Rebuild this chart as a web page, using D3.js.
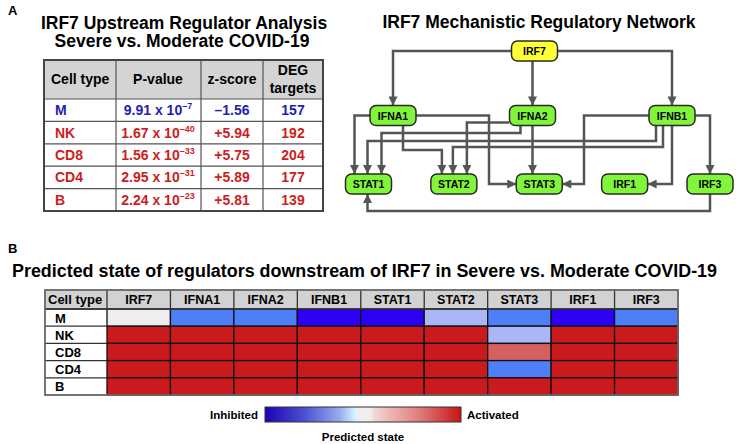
<!DOCTYPE html>
<html><head><meta charset="utf-8">
<script src="https://cdn.jsdelivr.net/npm/d3@7"></script>
<style>body{margin:0;background:#fff}svg{display:block;font-family:"Liberation Sans",Arial,Helvetica,sans-serif;font-weight:bold}</style>
</head><body>
<script>
// ---------- DATA ----------
const tableCells = ["M","NK","CD8","CD4","B"];
const pMantissa = ["9.91","1.67","1.56","2.95","2.24"];
const pExponent = ["–7","–40","–33","–31","–23"];
const zScores = [-1.56, 5.94, 5.75, 5.89, 5.81];
const degTargets = [157, 192, 204, 177, 139];

const topNode = "IRF7";
const midNodes = ["IFNA1","IFNA2","IFNB1"];
const lowNodes = ["STAT1","STAT2","STAT3","IRF1","IRF3"];
const edges = [
  ["IRF7","IFNA1"],["IRF7","IFNA2"],["IRF7","IFNB1"],
  ["IFNA1","STAT1"],["IFNA1","STAT2"],["IFNA1","STAT3"],
  ["IFNA2","STAT1"],["IFNA2","STAT2"],["IFNA2","STAT3"],
  ["IFNB1","STAT1"],["IFNB1","STAT2"],["IFNB1","STAT3"],["IFNB1","IRF1"],["IFNB1","IRF3"],
  ["IRF3","STAT1"]
];

const heatCells = ["M","NK","CD8","CD4","B"];
const regulators = ["IRF7","IFNA1","IFNA2","IFNB1","STAT1","STAT2","STAT3","IRF1","IRF3"];
// predicted activation state (negative = inhibited, positive = activated)
const stateM   = [0, -2, -2, -3, -3, -1, -2, -3, -2];
const stateNK  = [3, 3, 3, 3, 3, 3, -1, 3, 3];
const stateCD8 = [3, 3, 3, 3, 3, 3, 1, 3, 3];
const stateCD4 = [3, 3, 3, 3, 3, 3, -2, 3, 3];
const stateB   = [3, 3, 3, 3, 3, 3, 3, 3, 3];
const heatValues = [stateM, stateNK, stateCD8, stateCD4, stateB];

// ---------- SVG ----------
const svg = d3.select("body").append("svg").attr("width",736).attr("height",444);
const defs = svg.append("defs");
defs.append("marker").attr("id","arr").attr("viewBox","0 0 10 10").attr("refX",10).attr("refY",5)
  .attr("markerWidth",3.8).attr("markerHeight",3.6).attr("orient","auto").attr("markerUnits","strokeWidth")
  .append("path").attr("d","M0,0L10,5L0,10Z").attr("fill","#555");

// panel letters
svg.append("text").attr("x",8).attr("y",15).attr("font-size",13).text("A");
svg.append("text").attr("x",8).attr("y",253).attr("font-size",13).text("B");

// ---------- TABLE A ----------
const tA = svg.append("g");
const tLeft=44, tRight=323, colX=[44,116,201,263,323];
tA.append("text").attr("x",184).attr("y",29).attr("text-anchor","middle").attr("font-size",17.5).text("IRF7 Upstream Regulator Analysis");
tA.append("text").attr("x",182).attr("y",47).attr("text-anchor","middle").attr("font-size",17.5).text("Severe vs. Moderate COVID-19");
const rowA = d3.scaleBand().domain(tableCells).range([99,211]);
tA.append("rect").attr("x",tLeft).attr("y",60).attr("width",tRight-tLeft).attr("height",39).attr("fill","#d4d4d4");
const colorOf = i => zScores[i] < 0 ? "#1f1fb0" : "#cc1e1e";
// header
const hy=84;
tA.append("text").attr("x",51).attr("y",hy).attr("font-size",14).text("Cell type");
tA.append("text").attr("x",158).attr("y",hy).attr("text-anchor","middle").attr("font-size",14).text("P-value");
tA.append("text").attr("x",232).attr("y",hy).attr("text-anchor","middle").attr("font-size",14).text("z-score");
tA.append("text").attr("x",293).attr("y",75).attr("text-anchor","middle").attr("font-size",14).text("DEG");
tA.append("text").attr("x",293).attr("y",93).attr("text-anchor","middle").attr("font-size",14).text("targets");
tableCells.forEach((c,i)=>{
  const y = rowA(c)+rowA.bandwidth()/2+5;
  const col = colorOf(i);
  tA.append("text").attr("x",55).attr("y",y).attr("font-size",14).attr("fill",col).text(c);
  const t = tA.append("text").attr("x",158).attr("y",y).attr("text-anchor","middle").attr("font-size",14).attr("fill",col);
  t.append("tspan").text(pMantissa[i]+" x 10");
  t.append("tspan").attr("dy",-6).attr("font-size",9).text(pExponent[i]);
  const z = zScores[i];
  tA.append("text").attr("x",232).attr("y",y).attr("text-anchor","middle").attr("font-size",14).attr("fill",col)
    .text((z<0?"–":"+")+Math.abs(z).toFixed(2));
  tA.append("text").attr("x",293).attr("y",y).attr("text-anchor","middle").attr("font-size",14).attr("fill",col).text(degTargets[i]);
});
// grid lines
const gridA = tA.append("g").attr("stroke","#555").attr("stroke-width",1.2);
[99].concat(tableCells.slice(1).map(c=>rowA(c))).forEach(y=>gridA.append("line").attr("x1",tLeft).attr("x2",tRight).attr("y1",y).attr("y2",y));
colX.slice(1,-1).forEach(x=>gridA.append("line").attr("x1",x).attr("x2",x).attr("y1",60).attr("y2",211));
tA.append("rect").attr("x",tLeft).attr("y",60).attr("width",tRight-tLeft).attr("height",151).attr("fill","none").attr("stroke","#444").attr("stroke-width",2);

// ---------- NETWORK ----------
const net = svg.append("g");
net.append("text").attr("x",539).attr("y",28).attr("text-anchor","middle").attr("font-size",17.5).text("IRF7 Mechanistic Regulatory Network");
const nw=46, nh=20;
const xMid = d3.scalePoint().domain(midNodes).range([393,672]);
const xLow = d3.scalePoint().domain(lowNodes).range([368.5,710]);
const pos = {};
pos[topNode] = {x:534.5, y:51};
midNodes.forEach(n=>pos[n]={x:xMid(n), y:115.5});
lowNodes.forEach(n=>pos[n]={x:xLow(n), y:184});
const L=n=>pos[n].x-nw/2, R=n=>pos[n].x+nw/2, T=n=>pos[n].y-nh/2, B=n=>pos[n].y+nh/2, C=n=>pos[n].x, M=n=>pos[n].y;
const routes = {
  "IRF7>IFNA1": ()=>[[L("IRF7"),M("IRF7")],[C("IFNA1"),M("IRF7")],[C("IFNA1"),T("IFNA1")]],
  "IRF7>IFNA2": ()=>[[C("IFNA2"),B("IRF7")],[C("IFNA2"),T("IFNA2")]],
  "IRF7>IFNB1": ()=>[[R("IRF7"),M("IRF7")],[C("IFNB1"),M("IRF7")],[C("IFNB1"),T("IFNB1")]],
  "IFNA1>STAT1": ()=>[[L("IFNA1"),M("IFNA1")],[C("STAT1")-14,M("IFNA1")],[C("STAT1")-14,T("STAT1")]],
  "IFNA1>STAT2": ()=>[[C("IFNA1")+10,B("IFNA1")],[C("IFNA1")+10,150],[C("STAT2")-12,150],[C("STAT2")-12,T("STAT2")]],
  "IFNA1>STAT3": ()=>[[R("IFNA1"),M("IFNA1")],[489,M("IFNA1")],[489,M("STAT3")],[L("STAT3"),M("STAT3")]],
  "IFNA2>STAT1": ()=>[[C("IFNA2")-12,B("IFNA2")],[C("IFNA2")-12,133],[C("STAT1")+13,133],[C("STAT1")+13,T("STAT1")]],
  "IFNA2>STAT2": ()=>[[L("IFNA2"),M("IFNA2")+7],[C("STAT2")+13,M("IFNA2")+7],[C("STAT2")+13,T("STAT2")]],
  "IFNA2>STAT3": ()=>[[C("IFNA2"),B("IFNA2")],[C("IFNA2"),T("STAT3")]],
  "IFNB1>STAT1": ()=>[[C("IFNB1")-16,B("IFNB1")],[C("IFNB1")-16,141],[C("STAT1")-1,141],[C("STAT1")-1,T("STAT1")]],
  "IFNB1>STAT2": ()=>[[C("IFNB1")-9,B("IFNB1")],[C("IFNB1")-9,147],[C("STAT2")-1,147],[C("STAT2")-1,T("STAT2")]],
  "IFNB1>STAT3": ()=>[[L("IFNB1"),M("IFNB1")],[584,M("IFNB1")],[584,M("STAT3")],[R("STAT3"),M("STAT3")]],
  "IFNB1>IRF1": ()=>[[C("IFNB1"),B("IFNB1")],[C("IFNB1"),M("IRF1")],[R("IRF1"),M("IRF1")]],
  "IFNB1>IRF3": ()=>[[R("IFNB1"),M("IFNB1")],[C("IRF3"),M("IFNB1")],[C("IRF3"),T("IRF3")]],
  "IRF3>STAT1": ()=>[[C("IRF3"),B("IRF3")],[C("IRF3"),211],[C("STAT1")-1,211],[C("STAT1")-1,B("STAT1")]]
};
const line = d3.line();
net.append("g").selectAll("path").data(edges).join("path")
  .attr("d",e=>line(routes[e[0]+">"+e[1]]()))
  .attr("fill","none").attr("stroke","#555").attr("stroke-width",2.5).attr("stroke-linejoin","miter")
  .attr("marker-end","url(#arr)");
const allNodes = [topNode].concat(midNodes, lowNodes);
const ng = net.append("g").selectAll("g").data(allNodes).join("g");
ng.append("rect").attr("x",d=>L(d)).attr("y",d=>T(d)).attr("width",nw).attr("height",nh).attr("rx",6)
  .attr("fill",d=>d===topNode?"#ffff38":"#80f53a").attr("stroke","#2a2a2a").attr("stroke-width",1.5);
ng.append("text").attr("x",d=>C(d)).attr("y",d=>M(d)+4).attr("text-anchor","middle").attr("font-size",10.5).text(d=>d);

// ---------- HEATMAP B ----------
const hb = svg.append("g");
hb.append("text").attr("x",12).attr("y",277).attr("font-size",17.5).attr("textLength",705).attr("lengthAdjust","spacingAndGlyphs")
  .text("Predicted state of regulators downstream of IRF7 in Severe vs. Moderate COVID-19");
const hx = d3.scaleBand().domain(regulators).range([107,678]);
const hy2 = d3.scaleBand().domain(heatCells).range([309,395]);
const color = d3.scaleLinear().domain([-3,-2,-1,0,1,3])
  .range(["#2c00f4","#4f7ff8","#a9b6f8","#eeeeee","#d66060","#cb1a1e"]);
// header
hb.append("rect").attr("x",45).attr("y",290).attr("width",633).attr("height",19).attr("fill","#d2d2d2");
hb.append("text").attr("x",48).attr("y",304).attr("font-size",13).text("Cell type");
hb.selectAll("text.col").data(regulators).join("text").attr("class","col")
  .attr("x",d=>hx(d)+hx.bandwidth()/2).attr("y",304).attr("text-anchor","middle").attr("font-size",12.5).text(d=>d);
// cells
heatCells.forEach((c,i)=>{
  hb.append("g").selectAll("rect").data(regulators).join("rect")
    .attr("x",d=>hx(d)).attr("y",hy2(c)).attr("width",hx.bandwidth()).attr("height",hy2.bandwidth())
    .attr("fill",(d,j)=>color(heatValues[i][j])).attr("stroke","#111").attr("stroke-width",1.3);
  hb.append("text").attr("x",55).attr("y",hy2(c)+hy2.bandwidth()/2+5).attr("font-size",13).text(c);
});
// header grid & label column grid
const hg = hb.append("g").attr("stroke","#333").attr("stroke-width",1.3).attr("fill","none");
regulators.forEach(r=>hg.append("line").attr("x1",hx(r)).attr("x2",hx(r)).attr("y1",290).attr("y2",309));
hg.append("line").attr("x1",45).attr("x2",678).attr("y1",309).attr("y2",309);
heatCells.forEach(c=>hg.append("line").attr("x1",45).attr("x2",107).attr("y1",hy2(c)).attr("y2",hy2(c)));
hb.append("rect").attr("x",45).attr("y",290).attr("width",633).attr("height",105).attr("fill","none").attr("stroke","#666").attr("stroke-width",1.8);

// colorbar
const grad = defs.append("linearGradient").attr("id","cb");
[[0,"#1e00b4"],[0.2,"#4a50d0"],[0.38,"#9aaaf0"],[0.46,"#d0f6fc"],[0.47,"#eeeeee"],[0.54,"#eeeeee"],[0.56,"#f4d4d4"],[0.78,"#e08080"],[1,"#c81414"]]
  .forEach(s=>grad.append("stop").attr("offset",s[0]).attr("stop-color",s[1]));
hb.append("rect").attr("x",265).attr("y",407).attr("width",196).attr("height",15).attr("fill","url(#cb)").attr("stroke","#333").attr("stroke-width",1);
hb.append("text").attr("x",258).attr("y",419).attr("text-anchor","end").attr("font-size",11.5).text("Inhibited");
hb.append("text").attr("x",467).attr("y",419).attr("font-size",11.5).text("Activated");
hb.append("text").attr("x",363).attr("y",441).attr("text-anchor","middle").attr("font-size",11.5).text("Predicted state");
</script>
</body></html>
